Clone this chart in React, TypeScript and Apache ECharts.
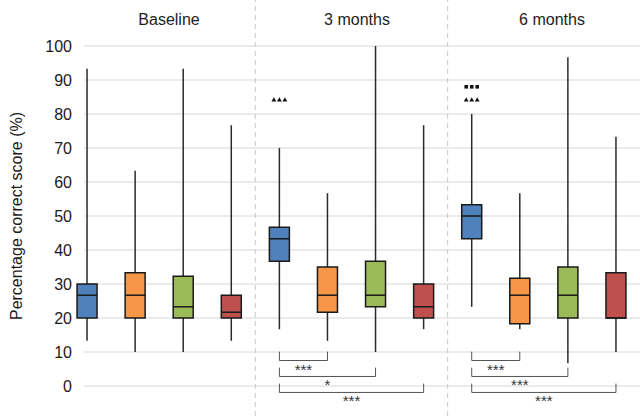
import React, { useEffect, useRef } from 'react';
import * as echarts from 'echarts';

const panels = ['Baseline', '3 months', '6 months'];
const arms = ['A', 'B', 'C', 'D'];
const armColors = ['#4F81BD', '#F79646', '#9BBB59', '#C0504D'];
const categories = panels.flatMap((p) => arms.map((a) => `${p} ${a}`));

// [min, Q1, median, Q3, max]
const baselineBoxes = [
  [13.3, 20, 26.7, 30, 93.3],
  [10, 20, 26.7, 33.3, 63.3],
  [10, 20, 23.3, 32.3, 93.3],
  [13.3, 20, 21.7, 26.7, 76.7],
];
const month3Boxes = [
  [16.7, 36.7, 43.3, 46.7, 70],
  [13.3, 21.7, 26.7, 35, 56.7],
  [10, 23.3, 26.7, 36.7, 100],
  [16.7, 20, 23.3, 30, 76.7],
];
const month6Boxes = [
  [23.3, 43.3, 50, 53.3, 80],
  [16.7, 18.3, 26.7, 31.7, 56.7],
  [6.7, 20, 26.7, 35, 96.7],
  [10, 20, 20, 33.3, 73.3],
];

// significance brackets (category indices, level of horizontal line)
const bracketFrom = [4, 4, 4, 8, 8, 8];
const bracketTo = [5, 6, 7, 9, 10, 11];
const bracketLevel = [7.5, 2.8, -1.9, 7.5, 2.8, -1.9];
const bracketTop = [10.1, 5.4, 0.7, 10.1, 5.4, 0.7];
const bracketLabel = ['***', '*', '***', '***', '***', '***'];

// markers above whiskers
const markerCat = [4, 8, 8];
const markerValue = [84.3, 84.3, 88.0];
const markerShape = ['triangle', 'triangle', 'square'];

// panel separators (boundaries in category units)
const separators = [4, 8];

const yMin = 0;
const yMax = 100;
const yInterval = 10;

const FONT = '"Liberation Sans", Arial, sans-serif';

export default function App() {
  const ref = useRef<HTMLDivElement>(null);
  useEffect(() => {
    if (!ref.current) return;
    const chart = echarts.init(ref.current, null, { renderer: 'svg' });

    const boxData = [...baselineBoxes, ...month3Boxes, ...month6Boxes].map((b, i) => [i, ...b]);
    const bracketData = bracketFrom.map((f, i) => [f, bracketTo[i], bracketLevel[i], bracketTop[i]]);
    const markerData = markerCat.map((c, i) => [c, markerValue[i], markerShape[i] === 'square' ? 1 : 0]);

    const titleCenters = [164, 352, 547];
    const plotTop = 46;
    const plotH = 340; // 0..100
    const fullH = 416 - plotTop; // extends below 0 to the bottom edge
    const extMin = yMin - ((fullH - plotH) / plotH) * (yMax - yMin);

    const option: any = {
      animation: false,
      backgroundColor: '#ffffff',
      textStyle: { fontFamily: FONT },
      title: panels.map((p, i) => ({
        text: p,
        left: titleCenters[i],
        top: 6,
        textAlign: 'center',
        textStyle: { fontSize: 16, fontWeight: 'normal', color: '#222', fontFamily: FONT },
      })),
      grid: [
        { left: 70, right: 0, top: plotTop, height: plotH },
        { left: 63, right: 0, top: plotTop, height: fullH },
        { left: 63, right: 0, top: 0, bottom: 0 },
      ],
      xAxis: [
        { gridIndex: 0, type: 'value', min: 0, max: 1, show: false },
        { gridIndex: 1, type: 'category', data: categories, show: false },
        { gridIndex: 2, type: 'value', min: 0, max: 12, show: false },
      ],
      yAxis: [
        {
          gridIndex: 0,
          type: 'value',
          min: yMin,
          max: yMax,
          interval: yInterval,
          axisLine: { show: false },
          axisTick: { show: false },
          axisLabel: { fontSize: 16, color: '#1a1a1a', margin: 12, fontFamily: FONT },
          splitLine: { lineStyle: { color: '#e4e4e4', width: 1.5 } },
          name: 'Percentage correct score (%)',
          nameLocation: 'middle',
          nameGap: 60,
          nameTextStyle: { fontSize: 16, color: '#1a1a1a', fontFamily: FONT },
        },
        { gridIndex: 1, type: 'value', min: extMin, max: yMax, show: false },
        { gridIndex: 2, type: 'value', min: 0, max: 1, show: false },
      ],
      series: [
        {
          type: 'custom',
          xAxisIndex: 2,
          yAxisIndex: 2,
          data: separators.map((s) => [s]),
          encode: { x: 0 },
          silent: true,
          renderItem: (params: any, api: any) => {
            const v = api.value(0);
            const p0 = api.coord([v, 0]);
            const p1 = api.coord([v, 1]);
            return {
              type: 'line',
              shape: { x1: p0[0], y1: p0[1], x2: p1[0], y2: p1[1] },
              style: { stroke: '#c8c8c8', lineWidth: 1, lineDash: [5, 4] },
            };
          },
        },
        {
          type: 'custom',
          xAxisIndex: 1,
          yAxisIndex: 1,
          data: boxData,
          encode: { x: 0, y: [1, 2, 3, 4, 5] },
          renderItem: (params: any, api: any) => {
            const idx = api.value(0);
            const x = api.coord([idx, 0])[0];
            const yMinP = api.coord([idx, api.value(1)])[1];
            const yQ1 = api.coord([idx, api.value(2)])[1];
            const yMed = api.coord([idx, api.value(3)])[1];
            const yQ3 = api.coord([idx, api.value(4)])[1];
            const yMaxP = api.coord([idx, api.value(5)])[1];
            const w = 20;
            const color = armColors[idx % 4];
            return {
              type: 'group',
              children: [
                {
                  type: 'line',
                  shape: { x1: x, y1: yMaxP, x2: x, y2: yMinP },
                  style: { stroke: '#2a2a2a', lineWidth: 1.5 },
                },
                {
                  type: 'rect',
                  shape: { x: x - w / 2, y: yQ3, width: w, height: yQ1 - yQ3 },
                  style: { fill: color, stroke: '#1a1a1a', lineWidth: 1.5 },
                },
                {
                  type: 'line',
                  shape: { x1: x - w / 2, y1: yMed, x2: x + w / 2, y2: yMed },
                  style: { stroke: '#1a1a1a', lineWidth: 1.5 },
                },
              ],
            };
          },
        },
        {
          type: 'custom',
          xAxisIndex: 1,
          yAxisIndex: 1,
          data: bracketData,
          encode: { x: [0, 1], y: [2, 3] },
          renderItem: (params: any, api: any) => {
            const i = params.dataIndex;
            const a = api.value(0);
            const b = api.value(1);
            const lvl = api.value(2);
            const top = api.value(3);
            const pa = api.coord([a, lvl]);
            const pb = api.coord([b, lvl]);
            const ta = api.coord([a, top]);
            const tb = api.coord([b, top]);
            return {
              type: 'group',
              children: [
                {
                  type: 'polyline',
                  shape: { points: [ta, pa, pb, tb] },
                  style: { stroke: '#555', lineWidth: 1, fill: 'none' },
                },
                {
                  type: 'text',
                  x: (pa[0] + pb[0]) / 2,
                  y: pa[1] + 1,
                  style: {
                    text: bracketLabel[i],
                    align: 'center',
                    verticalAlign: 'top',
                    textAlign: 'center',
                    textVerticalAlign: 'top',
                    fontSize: 15,
                    fontFamily: FONT,
                    fill: '#333',
                  },
                },
              ],
            };
          },
        },
        {
          type: 'custom',
          xAxisIndex: 1,
          yAxisIndex: 1,
          data: markerData,
          encode: { x: 0, y: 1 },
          renderItem: (params: any, api: any) => {
            const c = api.coord([api.value(0), api.value(1)]);
            const square = api.value(2) === 1;
            const children: any[] = [];
            [-5.5, 0, 5.5].forEach((dx) => {
              const cx = c[0] + dx;
              const cy = c[1];
              if (square) {
                children.push({
                  type: 'rect',
                  shape: { x: cx - 1.8, y: cy - 1.8, width: 3.6, height: 3.6 },
                  style: { fill: '#111' },
                });
              } else {
                children.push({
                  type: 'polygon',
                  shape: { points: [[cx - 2.4, cy + 2], [cx + 2.4, cy + 2], [cx, cy - 2.2]] },
                  style: { fill: '#111' },
                });
              }
            });
            return { type: 'group', children };
          },
        },
      ],
    };

    chart.setOption(option);
    return () => chart.dispose();
  }, []);

  return (
    <div
      ref={ref}
      style={{ position: 'fixed', left: 0, top: 0, width: 640, height: 416 }}
    />
  );
}
